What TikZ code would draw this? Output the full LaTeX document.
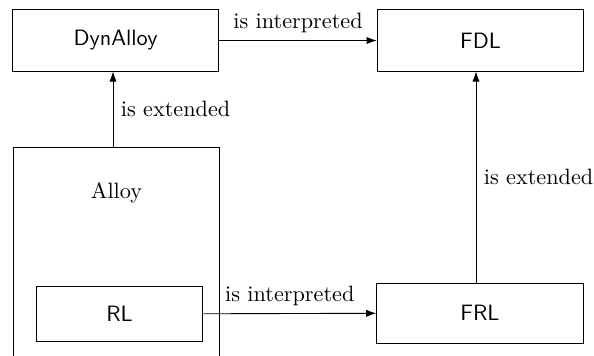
\documentclass[tikz,border=0pt]{standalone}
\usetikzlibrary{positioning,arrows.meta}
\tikzset{lang/.style={draw,font=\sffamily,minimum width=93pt,minimum height=27.5pt}}
\begin{document}
\begin{tikzpicture}[>={Latex[length=4.5pt,width=3.2pt]},x=0.45pt,y=-0.45pt]
    \clip (0,0) rectangle (594,356);
    \node[lang] (dynalloy) at (115.5,40.5) {DynAlloy};
    \node[lang] (fdl) at (480.5,40.5) {FDL};
    \node[draw,anchor=north,minimum width=93pt,minimum height=130pt] (alloy) at (116.5,147) {};
    \node (alloylbl) at (116.5,193) {Alloy};
    \node[lang,minimum width=75pt,minimum height=24.75pt] (rl) at (119.5,314) {RL};
    \node[lang,minimum height=27pt] (frl) at (480,313) {FRL};
    \draw[->] (dynalloy) -- node[above] {is interpreted} (fdl);
    \draw[->] (alloy.north -| 113,0) -- node[right] {is extended} (dynalloy.south -| 113,0);
    \draw[->] (frl.north -| 476,0) -- node[right] {is extended} (fdl.south -| 476,0);
    \draw[->] (rl) -- node[above] {is interpreted} (frl);
\end{tikzpicture}
\end{document}
